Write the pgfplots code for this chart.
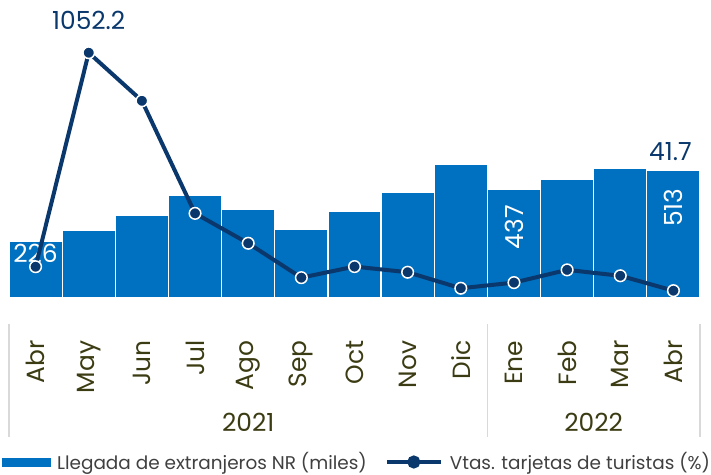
\documentclass[border=0pt]{standalone}
\usepackage{fontspec}
\setmainfont{Poppins}
\usepackage{pgfplots}
\pgfplotsset{compat=1.18}
\definecolor{barblue}{RGB}{0,112,192}
\definecolor{navy}{RGB}{10,56,108}
\definecolor{olive}{RGB}{60,60,20}
\definecolor{legtext}{RGB}{64,64,64}
\definecolor{sepgray}{RGB}{217,217,217}
\newcommand{\lblfont}{\fontsize{25}{25}\selectfont}
\newcommand{\legfont}{\fontsize{18.5}{18.5}\selectfont}
\begin{document}
\begin{tikzpicture}
\useasboundingbox (-9bp,-177.5bp) rectangle (702bp,297.5bp);
\begin{axis}[
  at={(0,0)}, anchor=south west,
  scale only axis, width=691bp, height=297.5bp,
  xmin=-0.5, xmax=12.5, ymin=0, ymax=1199,
  axis x line*=bottom, axis y line=none,
  x axis line style={sepgray, line width=1.5bp, -},
  xtick={0,...,12},
  xticklabels={Abr,May,Jun,Jul,Ago,Sep,Oct,Nov,Dic,Ene,Feb,Mar,Abr},
  major tick length=0pt,
  xticklabel style={font=\lblfont, text=olive, rotate=90, anchor=east, inner sep=0pt},
  xticklabel shift=43bp,
  ytick=\empty,
  clip=false,
]
\addplot[ybar, bar width=53.15bp, fill=barblue, draw=white, line width=1.2bp] coordinates {
(0,226) (1,271) (2,330) (3,412) (4,356) (5,274) (6,348) (7,424) (8,538) (9,437) (10,475) (11,519) (12,513)};
\draw[sepgray, line width=1.5bp] ([yshift=-26.5bp]axis cs:-0.5,0) -- ([yshift=-139.5bp]axis cs:-0.5,0);
\draw[sepgray, line width=1.5bp] ([yshift=-26.5bp]axis cs:8.5,0) -- ([yshift=-139.5bp]axis cs:8.5,0);
\draw[sepgray, line width=1.5bp] ([yshift=-26.5bp]axis cs:12.5,0) -- ([yshift=-139.5bp]axis cs:12.5,0);
\node[font=\lblfont, text=olive, inner sep=0pt] at ([yshift=-125bp]axis cs:4,0) {2021};
\node[font=\lblfont, text=olive, inner sep=0pt] at ([yshift=-125bp]axis cs:10.5,0) {2022};
\node[font=\lblfont, text=white, inner sep=0pt] at (axis cs:0,179) {226};
\node[font=\lblfont, text=white, yshift=-16bp, rotate=90, anchor=east, inner sep=0pt] at (axis cs:9,437) {437};
\node[font=\lblfont, text=white, yshift=-18bp, rotate=90, anchor=east, inner sep=0pt] at (axis cs:12,513) {513};
\node[font=\lblfont, text=navy, yshift=9bp, xshift=-3bp, anchor=south, inner sep=0pt] at (axis cs:12,513) {41.7};
\end{axis}
\begin{axis}[
  at={(0,0)}, anchor=south west,
  scale only axis, width=691bp, height=297.5bp,
  xmin=-0.5, xmax=12.5, ymin=12.7, ymax=1276,
  axis lines=none, ticks=none,
  clip=false,
  legend columns=2,
  legend style={at={(0.502,-0.5529)}, anchor=center, draw=none, fill=none,
    font=\legfont, text=legtext, inner sep=0pt, outer sep=0pt,
    nodes={inner sep=0pt},
    /tikz/every odd column/.append style={column sep=7bp},
    /tikz/every even column/.append style={column sep=18bp}},
]
\addlegendimage{legend image code/.code={\fill[barblue] (0bp,-4bp) rectangle (48bp,4bp);}}
\addlegendentry{Llegada de extranjeros NR (miles)}
\addplot[navy, line width=4bp, mark=*, mark size=5.8bp,
  mark options={fill=navy, draw=white, line width=1.5bp},
  legend image code/.code={\draw[navy,line width=4bp] (0bp,0bp) -- (54bp,0bp); \fill[navy] (27bp,0bp) circle (4.5bp);}]
coordinates {
(0,143.5) (1,1052.2) (2,848) (3,370) (4,243) (5,97) (6,144) (7,120) (8,52) (9,76) (10,130) (11,105) (12,41.7)};
\addlegendentry{Vtas. tarjetas de turistas (\%)}
\node[font=\lblfont, text=navy, yshift=23bp, anchor=south, inner sep=0pt] at (axis cs:1,1052.2) {1052.2};
\end{axis}
\end{tikzpicture}
\end{document}
